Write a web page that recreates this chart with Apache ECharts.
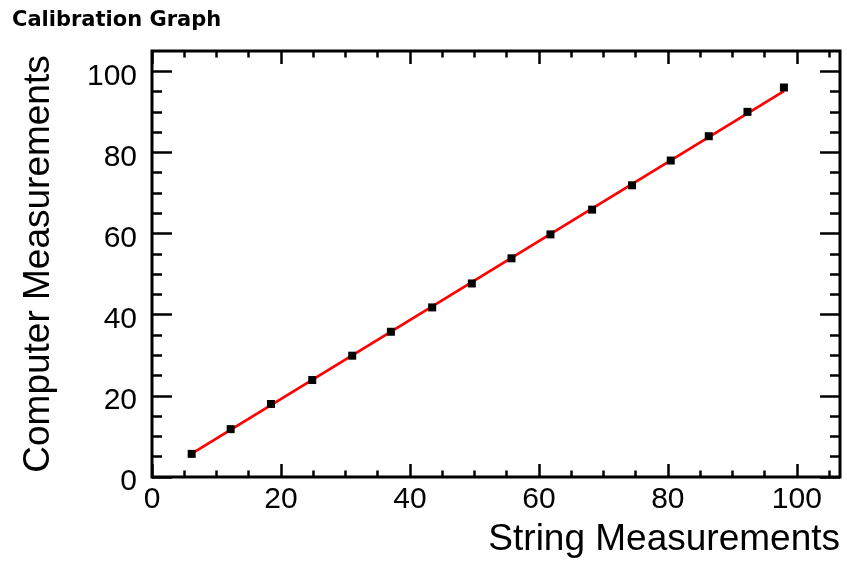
<!DOCTYPE html>
<html><head><meta charset="utf-8">
<script src="https://cdn.jsdelivr.net/npm/echarts@6/dist/echarts.min.js"></script>
<style>html,body{margin:0;padding:0;background:#fff}#c{width:847px;height:566px}</style>
</head><body><div id="c"></div>
<script>
const chartTitle = 'Calibration Graph';
const xTitle = 'String Measurements';
const yTitle = 'Computer Measurements';
const stringMeas = [6.15, 12.2, 18.45, 24.85, 31.05, 37.05, 43.45, 49.6, 55.75, 61.8, 68.25, 74.45, 80.45, 86.35, 92.35, 98.0];
const computerMeas = [5.7, 11.8, 18.0, 23.9, 29.9, 35.8, 41.8, 47.7, 53.9, 59.8, 65.9, 71.9, 78.0, 84.0, 90.0, 96.0];
const fitX = [6.1, 98.0];
const fitY = [5.7, 95.1];
const xRange = [0, 106.7];
const yRange = [0, 105];
const xMajorTicks = [0, 20, 40, 60, 80, 100];
const xMinorTicks = [5, 10, 15, 25, 30, 35, 45, 50, 55, 65, 70, 75, 85, 90, 95, 105];
const yMajorTicks = [0, 20, 40, 60, 80, 100];
const yMinorTicks = [5, 10, 15, 25, 30, 35, 45, 50, 55, 65, 70, 75, 85, 90, 95];

const FONT = 'Liberation Sans';
const gridBox = { left: 152, right: 7, top: 51, bottom: 89 };

function tickAxis(kind, gridIndex, position, ticks, len, opts) {
  const base = {
    type: 'value', gridIndex: gridIndex, position: position,
    min: kind === 'x' ? xRange[0] : yRange[0],
    max: kind === 'x' ? xRange[1] : yRange[1],
    axisLine: { show: false, onZero: false },
    splitLine: { show: false },
    axisTick: { show: true, inside: true, length: len, customValues: ticks,
                lineStyle: { color: '#000', width: 2.5 } },
    axisLabel: { show: false }
  };
  return Object.assign(base, opts || {});
}

const xAxes = [
  tickAxis('x', 0, 'bottom', xMajorTicks, 13, {
    axisLabel: { show: true, customValues: xMajorTicks, margin: 8, fontSize: 30,
                 fontFamily: FONT, color: '#000' },
    name: xTitle, nameLocation: 'end', nameGap: 0, nameMoveOverlap: false,
    nameTextStyle: { fontSize: 37, fontFamily: FONT, color: '#000',
                     align: 'right', verticalAlign: 'top', padding: [44, 0, 0, 0] }
  }),
  tickAxis('x', 0, 'top', xMajorTicks, 13),
  tickAxis('x', 1, 'bottom', xMinorTicks, 6.5),
  tickAxis('x', 1, 'top', xMinorTicks, 6.5)
];
const yAxes = [
  tickAxis('y', 0, 'left', yMajorTicks, 20, {
    axisLabel: { show: true, customValues: yMajorTicks, margin: 15, fontSize: 30,
                 fontFamily: FONT, color: '#000', verticalAlign: 'top', lineHeight: 10 },
    name: yTitle, nameLocation: 'middle', nameGap: 95, nameMoveOverlap: false,
    nameTextStyle: { fontSize: 37, fontFamily: FONT, color: '#000' }
  }),
  tickAxis('y', 0, 'right', yMajorTicks, 20),
  tickAxis('y', 1, 'left', yMinorTicks, 10),
  tickAxis('y', 1, 'right', yMinorTicks, 10)
];

const chart = echarts.init(document.getElementById('c'), null, { renderer: 'canvas' });
chart.setOption({
  animation: false,
  backgroundColor: '#fff',
  title: { text: chartTitle, left: 12, top: 10, padding: 0,
           textStyle: { fontSize: 21, fontWeight: 'bold', fontFamily: 'DejaVu Sans', color: '#000' } },
  grid: [
    Object.assign({ show: true, borderColor: '#000', borderWidth: 3, backgroundColor: 'transparent', containLabel: false }, gridBox),
    Object.assign({ show: false, containLabel: false }, gridBox)
  ],
  xAxis: xAxes,
  yAxis: yAxes,
  series: [
    { type: 'line', xAxisIndex: 0, yAxisIndex: 0, z: 2,
      data: fitX.map((x, i) => [x, fitY[i]]),
      showSymbol: false, symbol: 'none',
      lineStyle: { color: '#ff0000', width: 2.8 } },
    { type: 'scatter', xAxisIndex: 0, yAxisIndex: 0, z: 3,
      data: stringMeas.map((x, i) => [x, computerMeas[i]]),
      symbol: 'rect', symbolSize: 8,
      itemStyle: { color: '#000', opacity: 1 } }
  ]
});
</script>
</body></html>
